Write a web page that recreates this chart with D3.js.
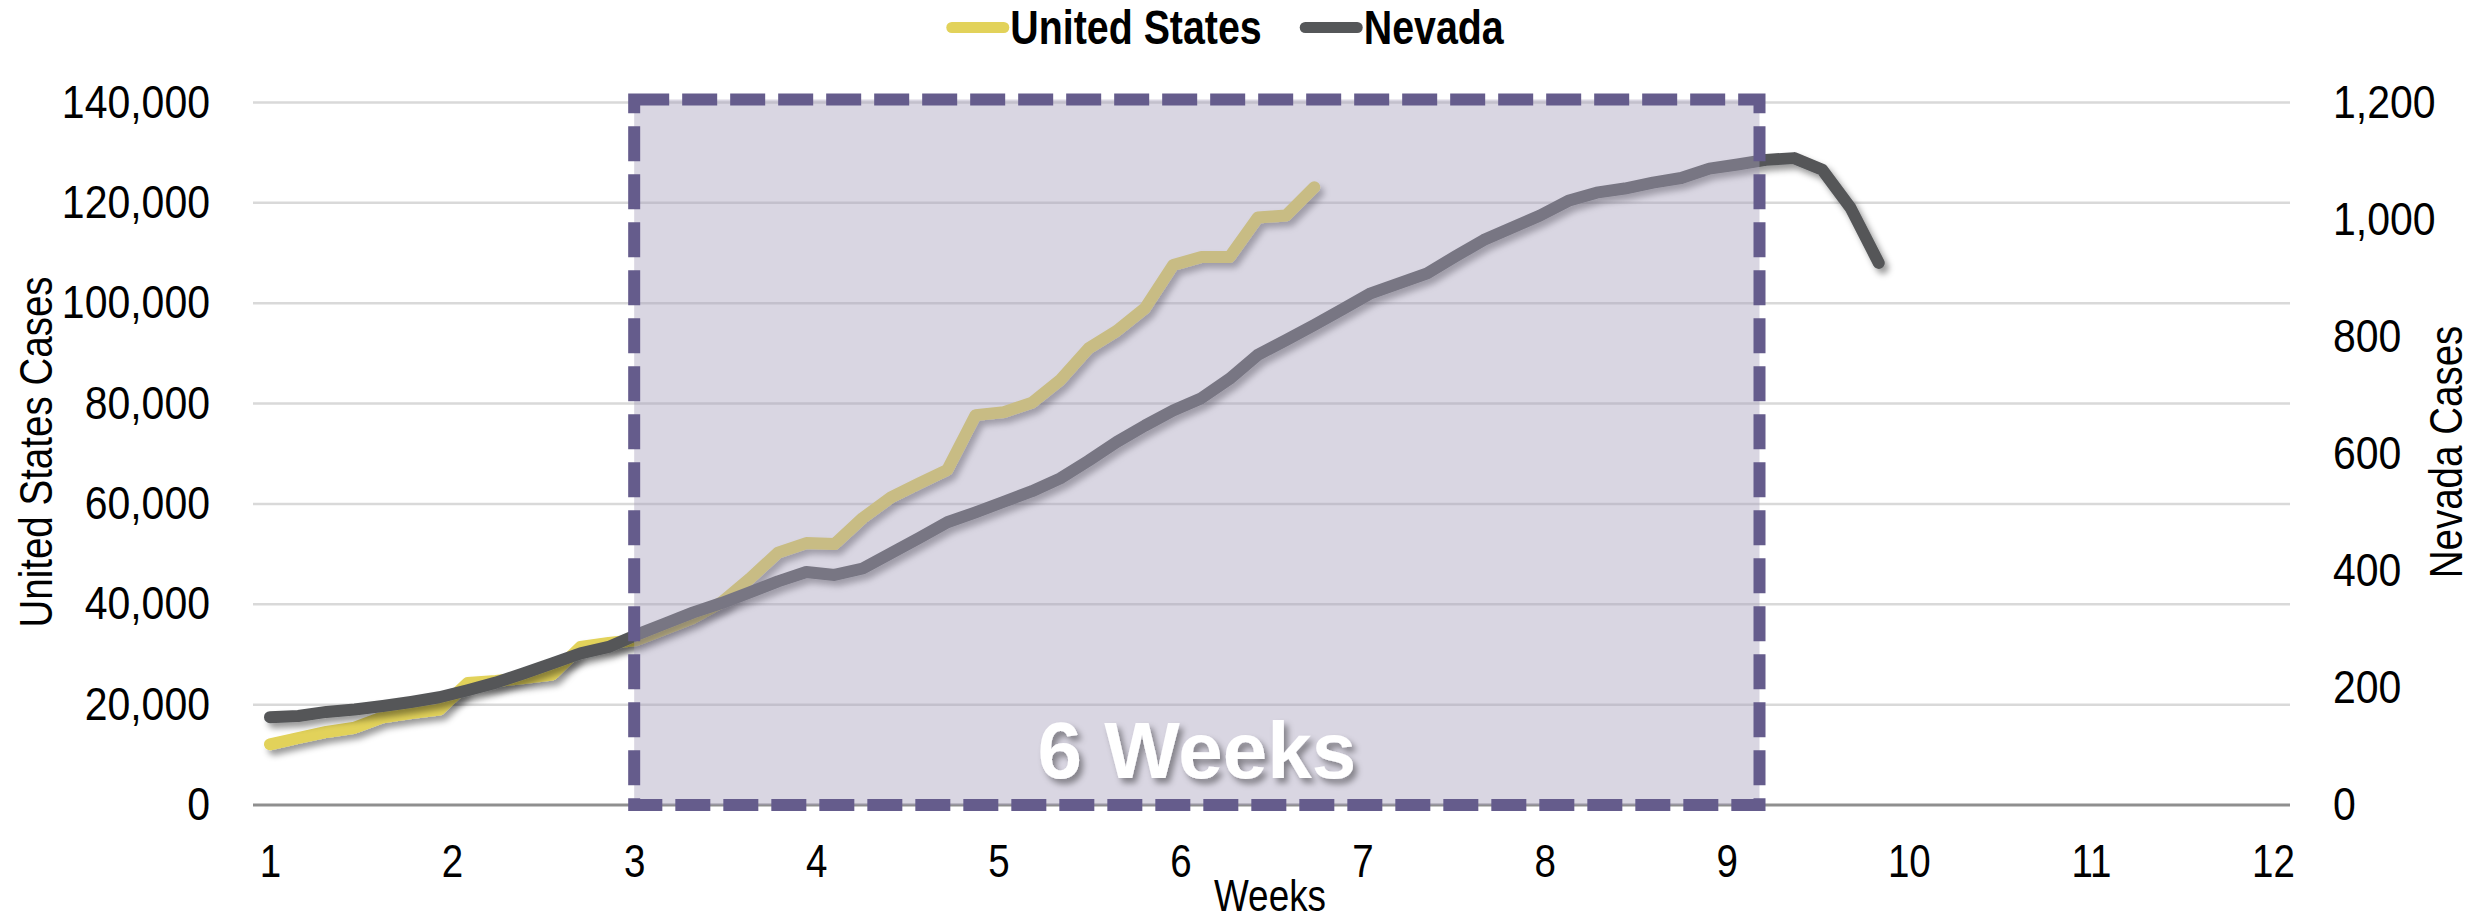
<!DOCTYPE html>
<html>
<head>
<meta charset="utf-8">
<script src="https://cdn.jsdelivr.net/npm/d3@7"></script>
<style>
  body { margin: 0; background: #fff; }
  svg text { font-family: "Liberation Sans", Arial, sans-serif; }
</style>
</head>
<body>
<svg id="chart" width="2478" height="921"></svg>
<script>
let seriesNames = ["United States", "Nevada"]
let weekTicks = [1, 2, 3, 4, 5, 6, 7, 8, 9, 10, 11, 12]
let usTicks = [0, 20000, 40000, 60000, 80000, 100000, 120000, 140000]
let nvTicks = [0, 200, 400, 600, 800, 1000, 1200]

// one value per day
let usCases = [12100, 13350, 14550, 15400, 17500, 18300, 19000, 24300, 24700, 25300,
               26000, 31500, 32300, 32900, 35100, 37300, 40400, 45100, 50300, 52200,
               52000, 57200, 61300, 64100, 66800, 77700, 78300, 80200, 84700, 91000,
               94500, 99000, 107600, 109200, 109200, 117100, 117500, 123100]
let nvCases = [150, 152, 159, 163, 169, 176, 184, 196, 209, 225,
               242, 259, 270, 291, 310, 329, 345, 363, 382, 398,
               393, 404, 430, 456, 483, 500, 518, 536, 558, 588,
               620, 648, 674, 695, 728, 769, 794, 820, 847, 874,
               891, 908, 937, 965, 986, 1007, 1032, 1046, 1053, 1063,
               1071, 1087, 1094, 1102, 1105, 1085, 1020, 926]
let dayStep = 0.155          // weeks between points as plotted
let highlightWeeks = [3, 9.18]
let highlightLabel = "6 Weeks"

let colors = { us: "#e2d25a", nv: "#555759", box: "#655c8c" }
let narrow = "scale(0.82,1)"   // no Arial Narrow here, squeeze Liberation Sans instead

let svg = d3.select("#chart")
let plotLeft = 253, plotRight = 2290, plotTop = 102.5, plotBottom = 805

let x = d3.scaleLinear().domain([1, 12]).range([270, 2273])
let yUS = d3.scaleLinear().domain([0, 140000]).range([plotBottom, plotTop])
let yNV = d3.scaleLinear().domain([0, 1200]).range([plotBottom, plotTop])

let defs = svg.append("defs")
let shadow = defs.append("filter").attr("id", "shadow")
    .attr("x", "-10%").attr("y", "-10%").attr("width", "130%").attr("height", "130%")
shadow.append("feDropShadow").attr("dx", 4).attr("dy", 5).attr("stdDeviation", 3)
    .attr("flood-color", "#000").attr("flood-opacity", 0.4)

// gridlines
svg.selectAll(".grid")
    .data(usTicks.slice(1))
    .enter()
    .append("line")
    .attr("class", "grid")
    .attr("x1", plotLeft).attr("x2", plotRight)
    .attr("y1", d => yUS(d)).attr("y2", d => yUS(d))
    .attr("stroke", "#d9d9d9")
    .attr("stroke-width", 2.5)

svg.append("line")
    .attr("x1", plotLeft).attr("x2", plotRight)
    .attr("y1", yUS(0)).attr("y2", yUS(0))
    .attr("stroke", "#8f8f8f")
    .attr("stroke-width", 3)

let lineUS = d3.line().x((d, i) => x(1 + i * dayStep)).y(d => yUS(d))
let lineNV = d3.line().x((d, i) => x(1 + i * dayStep)).y(d => yNV(d))

svg.append("path")
    .attr("d", lineUS(usCases))
    .attr("fill", "none")
    .attr("stroke", colors.us)
    .attr("stroke-width", 12)
    .attr("stroke-linejoin", "round")
    .attr("stroke-linecap", "round")
    .attr("filter", "url(#shadow)")

svg.append("path")
    .attr("d", lineNV(nvCases))
    .attr("fill", "none")
    .attr("stroke", colors.nv)
    .attr("stroke-width", 12)
    .attr("stroke-linejoin", "round")
    .attr("stroke-linecap", "round")
    .attr("filter", "url(#shadow)")

// highlighted period, drawn over the lines
let bx0 = x(highlightWeeks[0]), bx1 = x(highlightWeeks[1])
svg.append("rect")
    .attr("x", bx0).attr("y", yUS(140000) - 3)
    .attr("width", bx1 - bx0).attr("height", yUS(0) - yUS(140000) + 3)
    .attr("fill", "rgb(168,161,188)")
    .attr("fill-opacity", 0.43)

svg.append("rect")
    .attr("x", bx0).attr("y", yUS(140000) - 3)
    .attr("width", bx1 - bx0).attr("height", yUS(0) - yUS(140000) + 3)
    .attr("fill", "none")
    .attr("stroke", colors.box)
    .attr("stroke-width", 12)
    .attr("stroke-dasharray", "35,13")

svg.append("text")
    .attr("x", (bx0 + bx1) / 2)
    .attr("y", 778)
    .attr("text-anchor", "middle")
    .attr("font-size", 80)
    .attr("font-weight", "bold")
    .attr("fill", "#fff")
    .attr("filter", "url(#shadow)")
    .text(highlightLabel)

// axes
let styleAxis = (g, size, stretch) => {
    g.select(".domain").remove()
    g.attr("font-size", size).attr("font-family", '"Liberation Sans", Arial, sans-serif')
    g.selectAll("text").attr("fill", "#000").attr("transform", stretch)
}

svg.append("g")
    .attr("transform", `translate(${plotLeft},0)`)
    .call(d3.axisLeft(yUS).tickValues(usTicks).tickSize(0).tickPadding(43).tickFormat(d3.format(",")))
    .call(g => styleAxis(g, 41, "scale(1,1.12)"))

svg.append("g")
    .attr("transform", `translate(${plotRight},0)`)
    .call(d3.axisRight(yNV).tickValues(nvTicks).tickSize(0).tickPadding(43).tickFormat(d3.format(",")))
    .call(g => styleAxis(g, 41, "scale(1,1.12)"))

svg.append("g")
    .attr("transform", `translate(0,${plotBottom})`)
    .call(d3.axisBottom(x).tickValues(weekTicks).tickSize(0).tickPadding(39).tickFormat(d3.format("d")))
    .call(g => styleAxis(g, 47, narrow))

svg.append("text")
    .attr("transform", `translate(1270,911) ${narrow}`)
    .attr("text-anchor", "middle")
    .attr("font-size", 45)
    .text("Weeks")

svg.append("text")
    .attr("transform", `translate(52,452) rotate(-90) ${narrow}`)
    .attr("text-anchor", "middle")
    .attr("font-size", 47)
    .text("United States Cases")

svg.append("text")
    .attr("transform", `translate(2462,452) rotate(-90) ${narrow}`)
    .attr("text-anchor", "middle")
    .attr("font-size", 47)
    .text("Nevada Cases")

// legend
let legend = svg.append("g")
let offset = 0
seriesNames.forEach((name, i) => {
    let item = legend.append("g").attr("transform", `translate(${offset},0)`)
    item.append("line")
        .attr("x1", 5.5).attr("x2", 57.5)
        .attr("y1", 27.5).attr("y2", 27.5)
        .attr("stroke", i === 0 ? colors.us : colors.nv)
        .attr("stroke-width", 11)
        .attr("stroke-linecap", "round")
    let t = item.append("text")
        .attr("transform", `translate(64,44) ${narrow}`)
        .attr("font-size", 48)
        .attr("font-weight", "bold")
        .text(name)
    offset += 64 + t.node().getComputedTextLength() * 0.82 + 38
})
let legendWidth = offset - 38
legend.attr("transform", `translate(${1225 - legendWidth / 2},0)`)
</script>
</body>
</html>
